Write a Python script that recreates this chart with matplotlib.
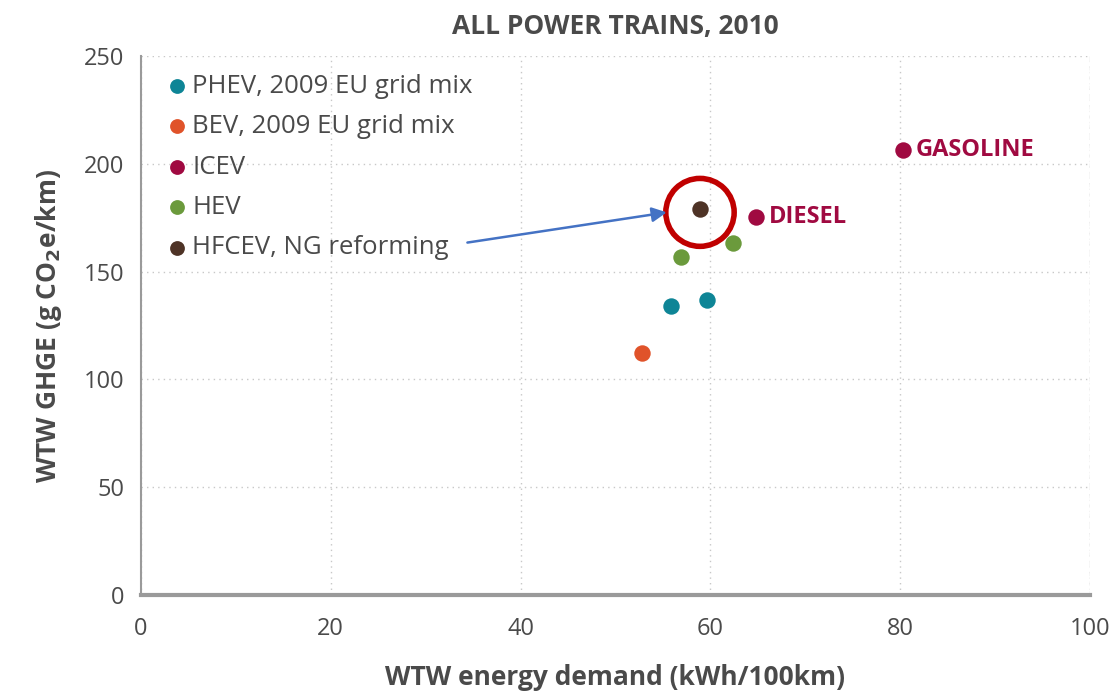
import matplotlib
matplotlib.use('Agg')

import matplotlib.pyplot as plt
from matplotlib.patches import Ellipse

plt.rcParams['font.family'] = ['Open Sans', 'DejaVu Sans']

# --- data ---
phev_x = [55.8, 59.6]
phev_y = [134.0, 137.0]
bev_x = [52.8]
bev_y = [112.5]
icev_x = [64.8, 80.3]
icev_y = [175.5, 206.5]
icev_names = ['DIESEL', 'GASOLINE']
hev_x = [56.9, 62.4]
hev_y = [157.0, 163.5]
hfcev_x = [58.9]
hfcev_y = [179.0]

x_ticks = [0, 20, 40, 60, 80, 100]
y_ticks = [0, 50, 100, 150, 200, 250]

c_phev = '#0e8596'
c_bev = '#e0532a'
c_icev = '#a00a41'
c_hev = '#6b9a3c'
c_hfcev = '#4e3326'
txt = '#4a4a4a'

fig = plt.figure(figsize=(11.09, 6.92), dpi=100)
ax = fig.add_axes([0.127, 0.140, 0.856, 0.779])

s = 140
ax.scatter(phev_x, phev_y, s=s, color=c_phev, label='PHEV, 2009 EU grid mix', zorder=3, linewidths=0)
ax.scatter(bev_x, bev_y, s=s, color=c_bev, label='BEV, 2009 EU grid mix', zorder=3, linewidths=0)
ax.scatter(icev_x, icev_y, s=s, color=c_icev, label='ICEV', zorder=3, linewidths=0)
ax.scatter(hev_x, hev_y, s=s, color=c_hev, label='HEV', zorder=3, linewidths=0)
ax.scatter(hfcev_x, hfcev_y, s=s, color=c_hfcev, label='HFCEV, NG reforming', zorder=3, linewidths=0)

for x, y, name in zip(icev_x, icev_y, icev_names):
    ax.annotate(name, (x, y), xytext=(9, 0), textcoords='offset points',
                va='center', ha='left', fontsize=17, fontweight='bold', color=c_icev)

# red highlight circle around the HFCEV point
ax.add_patch(Ellipse((hfcev_x[0], hfcev_y[0] - 1.5), width=7.2, height=31.5,
                     fill=False, edgecolor='#c00000', linewidth=4, zorder=4))

# arrow from legend entry to highlighted point
ax.annotate('', xy=(hfcev_x[0] - 3.5, hfcev_y[0] - 1.5), xytext=(34.4, 163.5),
            arrowprops=dict(arrowstyle='-|>', color='#4472c4', lw=1.8,
                            mutation_scale=22, shrinkA=0, shrinkB=0), zorder=4)

ax.set_xlim(0, 100)
ax.set_ylim(0, 250)
ax.set_xticks(x_ticks)
ax.set_yticks(y_ticks)
ax.tick_params(axis='both', labelsize=17, colors=txt, length=0, pad=12)
ax.tick_params(axis='x', pad=16)

ax.grid(True, linestyle=(0, (1, 3)), color='#c8c8c8', linewidth=1)
ax.axvline(100, linestyle=(0, (3, 4)), color='#d8d8d8', linewidth=1)
ax.set_axisbelow(True)

for sp in ['top', 'right']:
    ax.spines[sp].set_visible(False)
ax.spines['left'].set_color('#9a9a9a')
ax.spines['left'].set_linewidth(1.5)
ax.spines['bottom'].set_color('#9a9a9a')
ax.spines['bottom'].set_linewidth(3)

ax.set_xlabel('WTW energy demand (kWh/100km)', fontsize=19, fontweight='bold', color=txt, labelpad=16)
ax.set_ylabel('WTW GHGE (g CO$_\\mathbf{2}$e/km)', fontsize=19, fontweight='bold', color=txt, labelpad=14)
ax.set_title('ALL POWER TRAINS, 2010', fontsize=19, fontweight='bold', color=txt, pad=16)

leg = ax.legend(loc='upper left', bbox_to_anchor=(0.0, 1.01), frameon=False, fontsize=18.5,
                handletextpad=0.1, labelspacing=0.6, handlelength=1.0, markerscale=0.9)
for t in leg.get_texts():
    t.set_color(txt)

fig.savefig('out.png', dpi=100)
